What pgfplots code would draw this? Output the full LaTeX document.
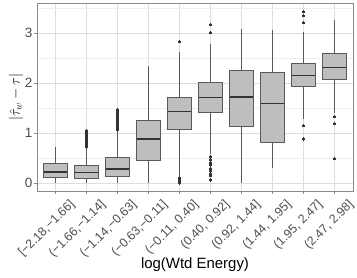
\documentclass[border=0pt]{standalone}
\usepackage{pgfplots}
\pgfplotsset{compat=1.18}
\usepgfplotslibrary{statistics}
\usepackage{fontspec}
\setmainfont{Liberation Sans}
\definecolor{boxfill}{HTML}{BEBEBE}
\definecolor{boxedge}{HTML}{5A5A5A}
\definecolor{medc}{HTML}{333333}
\definecolor{gridc}{HTML}{DEDEDE}
\definecolor{gridminor}{HTML}{EEEEEE}
\definecolor{border}{HTML}{8A8A8A}
\definecolor{ticklab}{HTML}{4D4D4D}
\definecolor{outc}{HTML}{333333}

\pgfplotsset{
  mybox/.style={
    solid, draw=boxedge, fill=boxfill, line width=1bp,
    mark=*, mark size=1.3bp, mark options={fill=outc, draw=outc, line width=0pt},
    boxplot/draw direction=y,
    boxplot/box extend=0.75, boxplot/whisker extend=0,
    boxplot/every median/.style={draw=medc, line width=1.4bp},
    boxplot/every whisker/.style={draw=boxedge, line width=1bp},
  }
}

\begin{document}
\begin{tikzpicture}
\path[use as bounding box] (0,0) rectangle (357bp,278bp);
\begin{axis}[
  at={(37bp,87bp)}, anchor=south west,
  width=316bp, height=188bp, scale only axis,
  xmin=0.4, xmax=10.6, ymin=-0.16, ymax=3.6,
  xtick={1,2,3,4,5,6,7,8,9,10},
  xticklabels={{[−2.18,−1.66]},{(−1.66,−1.14]},{(−1.14,−0.63]},{(−0.63,−0.11]},{(−0.11, 0.40]},{(0.40, 0.92]},{(0.92, 1.44]},{(1.44, 1.95]},{(1.95, 2.47]},{(2.47, 2.98]}},
  ytick={0,1,2,3}, minor ytick={0.5,1.5,2.5,3.5},
  grid=both,
  major grid style={gridc, line width=0.7bp},
  minor grid style={gridminor, line width=0.5bp},
  axis line style={border, line width=0.9bp},
  tick align=outside, xtick pos=bottom, ytick pos=left,
  major tick length=3bp, minor tick length=0pt,
  tick style={border, line width=0.8bp},
  /pgf/number format/assume math mode=true,
  xticklabel style={xshift=13bp, yshift=-3bp, rotate=45, anchor=north east, font=\fontsize{12.5}{12.5}\selectfont, text=ticklab, inner sep=1bp},
  yticklabel style={font=\fontsize{13.5}{13.5}\selectfont, text=ticklab, inner sep=1.5bp},
  xlabel={log(Wtd Energy)},
  xlabel style={at={(axis description cs:0.5,-0.4096)}, anchor=base, font=\fontsize{15}{15}\selectfont, inner sep=0pt},
  ylabel={$|\hat{\tau}_w - \tau|$},
  ylabel style={at={(axis description cs:-0.0665,0.5)}, anchor=center, font=\fontsize{14}{14}\selectfont, inner sep=0pt},
  clip=false,
]
\addplot[mybox, boxplot prepared={draw position=1, median=0.22, lower quartile=0.11, upper quartile=0.39, lower whisker=0.0, upper whisker=0.71}] coordinates {};
\addplot[mybox, boxplot prepared={draw position=2, median=0.21, lower quartile=0.09, upper quartile=0.34, lower whisker=0.0, upper whisker=0.68}] coordinates {(0,0.72) (0,0.75) (0,0.78) (0,0.81) (0,0.84) (0,0.87) (0,0.90) (0,0.93) (0,0.96) (0,0.99) (0,1.02) (0,1.05)};
\addplot[mybox, boxplot prepared={draw position=3, median=0.28, lower quartile=0.13, upper quartile=0.50, lower whisker=0.0, upper whisker=1.04}] coordinates {(0,1.07) (0,1.11) (0,1.15) (0,1.19) (0,1.23) (0,1.27) (0,1.31) (0,1.35) (0,1.39) (0,1.43) (0,1.47)};
\addplot[mybox, boxplot prepared={draw position=4, median=0.88, lower quartile=0.45, upper quartile=1.24, lower whisker=0.0, upper whisker=2.33}] coordinates {};
\addplot[mybox, boxplot prepared={draw position=5, median=1.43, lower quartile=1.07, upper quartile=1.71, lower whisker=0.13, upper whisker=2.62}] coordinates {(0,2.83) (0,0.0) (0,0.02) (0,0.04) (0,0.06) (0,0.08) (0,0.10)};
\addplot[mybox, boxplot prepared={draw position=6, median=1.71, lower quartile=1.41, upper quartile=2.00, lower whisker=0.58, upper whisker=2.77}] coordinates {(0,3.01) (0,3.17) (0,0.53) (0,0.47) (0,0.41) (0,0.36) (0,0.29) (0,0.24) (0,0.19) (0,0.15) (0,0.06)};
\addplot[mybox, boxplot prepared={draw position=7, median=1.72, lower quartile=1.13, upper quartile=2.24, lower whisker=0.0, upper whisker=3.07}] coordinates {};
\addplot[mybox, boxplot prepared={draw position=8, median=1.59, lower quartile=0.81, upper quartile=2.21, lower whisker=0.29, upper whisker=3.05}] coordinates {};
\addplot[mybox, boxplot prepared={draw position=9, median=2.15, lower quartile=1.93, upper quartile=2.39, lower whisker=1.28, upper whisker=3.01}] coordinates {(0,3.21) (0,3.35) (0,3.43) (0,1.15) (0,0.88)};
\addplot[mybox, boxplot prepared={draw position=10, median=2.31, lower quartile=2.07, upper quartile=2.58, lower whisker=1.39, upper whisker=3.25}] coordinates {(0,1.33) (0,1.19) (0,0.49)};
\end{axis}
\end{tikzpicture}
\end{document}
